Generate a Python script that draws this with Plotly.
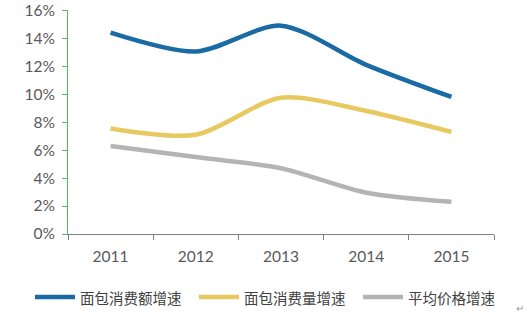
import plotly.graph_objects as go

years = ["2011", "2012", "2013", "2014", "2015"]
consumption_value = [14.4, 13.05, 14.9, 12.1, 9.8]
consumption_volume = [7.55, 7.1, 9.75, 8.8, 7.3]
avg_price = [6.3, 5.5, 4.7, 2.95, 2.3]
names = ["面包消费额增速", "面包消费量增速", "平均价格增速"]
colors = ["#1a6aa5", "#e8c95f", "#b4b4b4"]
y_ticks = [0, 2, 4, 6, 8, 10, 12, 14, 16]

L, T, PW, PH = 68, 10, 426, 224

fig = go.Figure()
for vals, name, c in zip([consumption_value, consumption_volume, avg_price], names, colors):
    fig.add_trace(go.Scatter(
        x=years, y=vals, name=name, mode="lines", showlegend=False,
        line=dict(color=c, width=4.5, shape="spline", smoothing=0.8),
    ))

# manual legend (line samples + labels) below the plot
legend_x = [35, 199, 363]
legend_y = 297
for lx, name, c in zip(legend_x, names, colors):
    y_p = -(legend_y - (T + PH)) / PH
    fig.add_shape(type="line", xref="paper", yref="paper",
                  x0=(lx - L) / PW, x1=(lx + 40 - L) / PW, y0=y_p, y1=y_p,
                  line=dict(color=c, width=4.5))
    fig.add_annotation(text=name, xref="paper", yref="paper", x=(lx + 43 - L) / PW, y=y_p,
                       xanchor="left", yanchor="middle", showarrow=False,
                       font=dict(family="Noto Sans CJK SC", size=14.5, color="#404040"))

fig.update_layout(
    width=530, height=323,
    margin=dict(l=L, r=530 - L - PW, t=T, b=323 - T - PH),
    paper_bgcolor="white", plot_bgcolor="white",
    showlegend=False,
    font=dict(family="Lato", color="#595959"),
)
fig.update_xaxes(
    type="category", tickson="boundaries", ticks="outside", ticklen=5,
    tickcolor="#808080", showline=True, linecolor="#808080", linewidth=1,
    showgrid=False, tickfont=dict(size=15.5, color="#595959"),
    range=[-0.5, 4.5], ticklabelstandoff=8, automargin=False,
)
fig.update_yaxes(
    range=[0, 16.02], tickmode="array", tickvals=y_ticks,
    ticktext=[f"{t}%" for t in y_ticks], ticks="outside", ticklen=5,
    tickcolor="#5cb85c", showline=True, linecolor="#5cb85c", linewidth=1,
    showgrid=False, zeroline=False, tickfont=dict(size=15.5, color="#595959"),
    ticklabelstandoff=4, automargin=False,
)
fig.add_annotation(text="↵", xref="paper", yref="paper", x=(526 - L) / PW,
                   y=-(316 - T - PH) / PH, showarrow=False,
                   font=dict(size=10, color="#999999"))

fig.write_html("out.html")
